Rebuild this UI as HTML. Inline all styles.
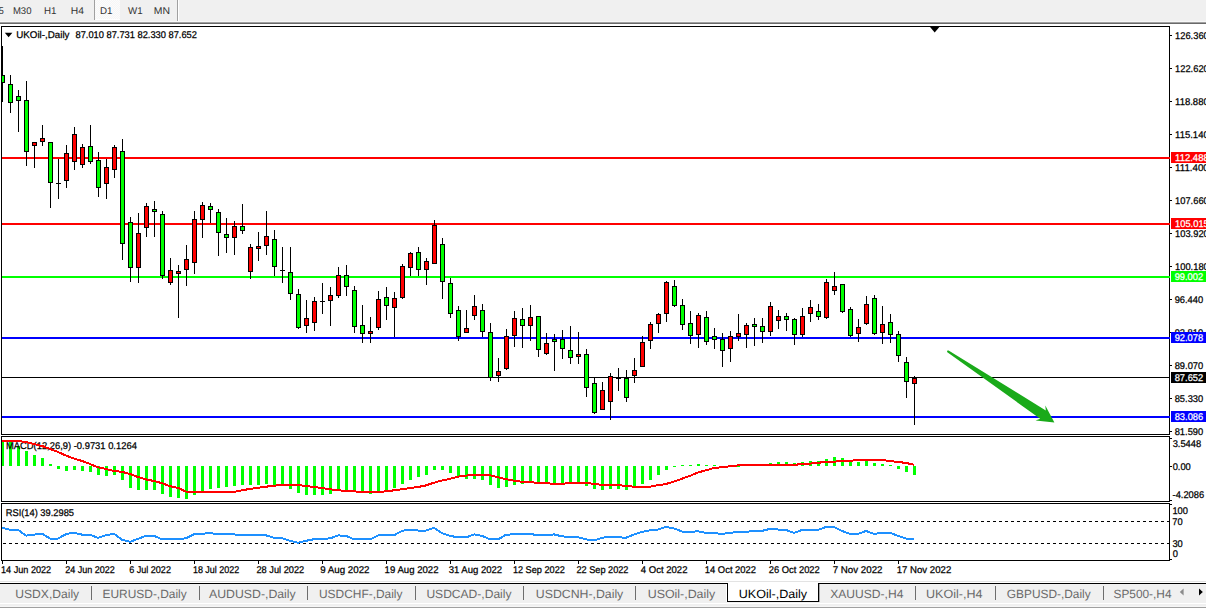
<!DOCTYPE html>
<html><head><meta charset="utf-8"><title>UKOil-,Daily</title>
<style>html,body{margin:0;padding:0;background:#fff;overflow:hidden}svg{display:block}text{white-space:pre}</style>
</head><body>
<svg text-rendering="geometricPrecision" width="1206" height="608" viewBox="0 0 1206 608" font-family="'Liberation Sans', sans-serif">
<rect x="0" y="0" width="1206" height="608" fill="#fff"/>
<rect x="0" y="0" width="1206" height="21" fill="#f0f0f0"/>
<rect x="0" y="21" width="1206" height="1" fill="#f7f7f7"/>
<rect x="0" y="22" width="1206" height="1" fill="#a0a0a0"/>
<rect x="0" y="23" width="1206" height="1" fill="#696969"/>
<defs><pattern id="chk" width="2" height="2" patternUnits="userSpaceOnUse"><rect width="2" height="2" fill="#f6f6f6"/><rect width="1" height="1" fill="#fcfcfc"/><rect x="1" y="1" width="1" height="1" fill="#fcfcfc"/></pattern></defs>
<rect x="95" y="0" width="25" height="20" fill="url(#chk)"/>
<rect x="94" y="0" width="1" height="20" fill="#a0a0a0"/>
<rect x="95" y="19" width="25" height="1" fill="#ffffff"/>
<rect x="177" y="0" width="1" height="21" fill="#a0a0a0"/>
<rect x="178" y="0" width="1" height="21" fill="#ffffff"/>
<text x="-1.36" y="14.0" font-size="9.75" fill="#333333" stroke="#333333" stroke-width="0" textLength="5.04" lengthAdjust="spacingAndGlyphs">5</text>
<text x="12.92" y="14.0" font-size="9.75" fill="#333333" stroke="#333333" stroke-width="0" textLength="18.56" lengthAdjust="spacingAndGlyphs">M30</text>
<text x="44.00" y="14.0" font-size="9.75" fill="#333333" stroke="#333333" stroke-width="0" textLength="12.48" lengthAdjust="spacingAndGlyphs">H1</text>
<text x="70.86" y="14.0" font-size="9.75" fill="#333333" stroke="#333333" stroke-width="0" textLength="13.14" lengthAdjust="spacingAndGlyphs">H4</text>
<text x="100.00" y="14.0" font-size="9.75" fill="#333333" stroke="#333333" stroke-width="0" textLength="12.48" lengthAdjust="spacingAndGlyphs">D1</text>
<text x="128.06" y="14.0" font-size="9.75" fill="#333333" stroke="#333333" stroke-width="0" textLength="14.62" lengthAdjust="spacingAndGlyphs">W1</text>
<text x="153.85" y="14.0" font-size="9.75" fill="#333333" stroke="#333333" stroke-width="0" textLength="16.20" lengthAdjust="spacingAndGlyphs">MN</text>
<rect x="2" y="157" width="1168" height="2" fill="#ff0000"/>
<rect x="2" y="223" width="1168" height="2" fill="#ff0000"/>
<rect x="2" y="276" width="1168" height="2" fill="#00ff00"/>
<rect x="2" y="337" width="1168" height="2" fill="#0000ff"/>
<rect x="2" y="377" width="1168" height="1" fill="#000000"/>
<rect x="2" y="416" width="1168" height="2" fill="#0000ff"/>
<rect x="2" y="46" width="1" height="56" fill="#000"/>
<rect x="0" y="75" width="5" height="8" fill="#000"/>
<rect x="1" y="76" width="3" height="6" fill="#00ff00"/>
<rect x="10" y="75" width="1" height="38" fill="#000"/>
<rect x="8" y="84" width="5" height="19" fill="#000"/>
<rect x="9" y="85" width="3" height="17" fill="#00ff00"/>
<rect x="18" y="90" width="1" height="42" fill="#000"/>
<rect x="16" y="96" width="5" height="5" fill="#000"/>
<rect x="17" y="97" width="3" height="3" fill="#00ff00"/>
<rect x="26" y="81" width="1" height="85" fill="#000"/>
<rect x="24" y="100" width="5" height="52" fill="#000"/>
<rect x="25" y="101" width="3" height="50" fill="#00ff00"/>
<rect x="34" y="142" width="1" height="26" fill="#000"/>
<rect x="32" y="142" width="5" height="4" fill="#000"/>
<rect x="33" y="143" width="3" height="2" fill="#ff0000"/>
<rect x="42" y="125" width="1" height="21" fill="#000"/>
<rect x="40" y="138" width="5" height="4" fill="#000"/>
<rect x="41" y="139" width="3" height="2" fill="#ff0000"/>
<rect x="50" y="142" width="1" height="66" fill="#000"/>
<rect x="48" y="142" width="5" height="41" fill="#000"/>
<rect x="49" y="143" width="3" height="39" fill="#00ff00"/>
<rect x="58" y="159" width="1" height="40" fill="#000"/>
<rect x="56" y="183" width="5" height="1" fill="#000"/>
<rect x="66" y="145" width="1" height="43" fill="#000"/>
<rect x="64" y="153" width="5" height="28" fill="#000"/>
<rect x="65" y="154" width="3" height="26" fill="#ff0000"/>
<rect x="74" y="127" width="1" height="43" fill="#000"/>
<rect x="72" y="134" width="5" height="28" fill="#000"/>
<rect x="73" y="135" width="3" height="26" fill="#ff0000"/>
<rect x="82" y="144" width="1" height="24" fill="#000"/>
<rect x="80" y="147" width="5" height="18" fill="#000"/>
<rect x="81" y="148" width="3" height="16" fill="#ff0000"/>
<rect x="90" y="125" width="1" height="39" fill="#000"/>
<rect x="88" y="146" width="5" height="16" fill="#000"/>
<rect x="89" y="147" width="3" height="14" fill="#00ff00"/>
<rect x="98" y="152" width="1" height="45" fill="#000"/>
<rect x="96" y="160" width="5" height="28" fill="#000"/>
<rect x="97" y="161" width="3" height="26" fill="#00ff00"/>
<rect x="106" y="159" width="1" height="40" fill="#000"/>
<rect x="104" y="167" width="5" height="17" fill="#000"/>
<rect x="105" y="168" width="3" height="15" fill="#ff0000"/>
<rect x="114" y="145" width="1" height="33" fill="#000"/>
<rect x="112" y="147" width="5" height="23" fill="#000"/>
<rect x="113" y="148" width="3" height="21" fill="#ff0000"/>
<rect x="122" y="139" width="1" height="121" fill="#000"/>
<rect x="120" y="151" width="5" height="93" fill="#000"/>
<rect x="121" y="152" width="3" height="91" fill="#00ff00"/>
<rect x="130" y="217" width="1" height="65" fill="#000"/>
<rect x="128" y="222" width="5" height="46" fill="#000"/>
<rect x="129" y="223" width="3" height="44" fill="#00ff00"/>
<rect x="138" y="213" width="1" height="70" fill="#000"/>
<rect x="136" y="233" width="5" height="35" fill="#000"/>
<rect x="137" y="234" width="3" height="33" fill="#ff0000"/>
<rect x="146" y="203" width="1" height="34" fill="#000"/>
<rect x="144" y="206" width="5" height="22" fill="#000"/>
<rect x="145" y="207" width="3" height="20" fill="#ff0000"/>
<rect x="154" y="201" width="1" height="36" fill="#000"/>
<rect x="152" y="209" width="5" height="3" fill="#000"/>
<rect x="153" y="210" width="3" height="1" fill="#00ff00"/>
<rect x="162" y="211" width="1" height="68" fill="#000"/>
<rect x="160" y="214" width="5" height="62" fill="#000"/>
<rect x="161" y="215" width="3" height="60" fill="#00ff00"/>
<rect x="170" y="258" width="1" height="27" fill="#000"/>
<rect x="168" y="270" width="5" height="13" fill="#000"/>
<rect x="169" y="271" width="3" height="11" fill="#ff0000"/>
<rect x="178" y="265" width="1" height="53" fill="#000"/>
<rect x="176" y="271" width="5" height="3" fill="#000"/>
<rect x="177" y="272" width="3" height="1" fill="#ff0000"/>
<rect x="186" y="245" width="1" height="41" fill="#000"/>
<rect x="184" y="259" width="5" height="11" fill="#000"/>
<rect x="185" y="260" width="3" height="9" fill="#ff0000"/>
<rect x="194" y="211" width="1" height="63" fill="#000"/>
<rect x="192" y="219" width="5" height="44" fill="#000"/>
<rect x="193" y="220" width="3" height="42" fill="#ff0000"/>
<rect x="202" y="202" width="1" height="36" fill="#000"/>
<rect x="200" y="205" width="5" height="15" fill="#000"/>
<rect x="201" y="206" width="3" height="13" fill="#ff0000"/>
<rect x="210" y="203" width="1" height="20" fill="#000"/>
<rect x="208" y="206" width="5" height="4" fill="#000"/>
<rect x="209" y="207" width="3" height="2" fill="#00ff00"/>
<rect x="218" y="209" width="1" height="47" fill="#000"/>
<rect x="216" y="212" width="5" height="21" fill="#000"/>
<rect x="217" y="213" width="3" height="19" fill="#00ff00"/>
<rect x="226" y="218" width="1" height="35" fill="#000"/>
<rect x="224" y="234" width="5" height="4" fill="#000"/>
<rect x="225" y="235" width="3" height="2" fill="#00ff00"/>
<rect x="234" y="221" width="1" height="34" fill="#000"/>
<rect x="232" y="226" width="5" height="12" fill="#000"/>
<rect x="233" y="227" width="3" height="10" fill="#ff0000"/>
<rect x="242" y="204" width="1" height="30" fill="#000"/>
<rect x="240" y="226" width="5" height="5" fill="#000"/>
<rect x="241" y="227" width="3" height="3" fill="#00ff00"/>
<rect x="250" y="244" width="1" height="35" fill="#000"/>
<rect x="248" y="247" width="5" height="25" fill="#000"/>
<rect x="249" y="248" width="3" height="23" fill="#ff0000"/>
<rect x="258" y="232" width="1" height="29" fill="#000"/>
<rect x="256" y="246" width="5" height="3" fill="#000"/>
<rect x="257" y="247" width="3" height="1" fill="#ff0000"/>
<rect x="266" y="211" width="1" height="44" fill="#000"/>
<rect x="264" y="236" width="5" height="10" fill="#000"/>
<rect x="265" y="237" width="3" height="8" fill="#ff0000"/>
<rect x="274" y="230" width="1" height="46" fill="#000"/>
<rect x="272" y="239" width="5" height="28" fill="#000"/>
<rect x="273" y="240" width="3" height="26" fill="#00ff00"/>
<rect x="282" y="247" width="1" height="36" fill="#000"/>
<rect x="280" y="270" width="5" height="1" fill="#000"/>
<rect x="290" y="247" width="1" height="53" fill="#000"/>
<rect x="288" y="272" width="5" height="22" fill="#000"/>
<rect x="289" y="273" width="3" height="20" fill="#00ff00"/>
<rect x="298" y="289" width="1" height="40" fill="#000"/>
<rect x="296" y="294" width="5" height="34" fill="#000"/>
<rect x="297" y="295" width="3" height="32" fill="#00ff00"/>
<rect x="306" y="300" width="1" height="33" fill="#000"/>
<rect x="304" y="318" width="5" height="8" fill="#000"/>
<rect x="305" y="319" width="3" height="6" fill="#ff0000"/>
<rect x="314" y="297" width="1" height="34" fill="#000"/>
<rect x="312" y="301" width="5" height="22" fill="#000"/>
<rect x="313" y="302" width="3" height="20" fill="#ff0000"/>
<rect x="322" y="283" width="1" height="31" fill="#000"/>
<rect x="320" y="301" width="5" height="1" fill="#000"/>
<rect x="330" y="287" width="1" height="39" fill="#000"/>
<rect x="328" y="295" width="5" height="6" fill="#000"/>
<rect x="329" y="296" width="3" height="4" fill="#ff0000"/>
<rect x="338" y="267" width="1" height="31" fill="#000"/>
<rect x="336" y="275" width="5" height="21" fill="#000"/>
<rect x="337" y="276" width="3" height="19" fill="#ff0000"/>
<rect x="346" y="265" width="1" height="31" fill="#000"/>
<rect x="344" y="275" width="5" height="12" fill="#000"/>
<rect x="345" y="276" width="3" height="10" fill="#00ff00"/>
<rect x="354" y="286" width="1" height="47" fill="#000"/>
<rect x="352" y="290" width="5" height="37" fill="#000"/>
<rect x="353" y="291" width="3" height="35" fill="#00ff00"/>
<rect x="362" y="305" width="1" height="38" fill="#000"/>
<rect x="360" y="325" width="5" height="9" fill="#000"/>
<rect x="361" y="326" width="3" height="7" fill="#00ff00"/>
<rect x="370" y="317" width="1" height="26" fill="#000"/>
<rect x="368" y="331" width="5" height="3" fill="#000"/>
<rect x="369" y="332" width="3" height="1" fill="#ff0000"/>
<rect x="378" y="291" width="1" height="39" fill="#000"/>
<rect x="376" y="299" width="5" height="29" fill="#000"/>
<rect x="377" y="300" width="3" height="27" fill="#ff0000"/>
<rect x="386" y="287" width="1" height="33" fill="#000"/>
<rect x="384" y="297" width="5" height="9" fill="#000"/>
<rect x="385" y="298" width="3" height="7" fill="#00ff00"/>
<rect x="394" y="292" width="1" height="45" fill="#000"/>
<rect x="392" y="298" width="5" height="10" fill="#000"/>
<rect x="393" y="299" width="3" height="8" fill="#ff0000"/>
<rect x="402" y="264" width="1" height="35" fill="#000"/>
<rect x="400" y="266" width="5" height="32" fill="#000"/>
<rect x="401" y="267" width="3" height="30" fill="#ff0000"/>
<rect x="410" y="252" width="1" height="24" fill="#000"/>
<rect x="408" y="253" width="5" height="15" fill="#000"/>
<rect x="409" y="254" width="3" height="13" fill="#ff0000"/>
<rect x="418" y="247" width="1" height="29" fill="#000"/>
<rect x="416" y="252" width="5" height="18" fill="#000"/>
<rect x="417" y="253" width="3" height="16" fill="#00ff00"/>
<rect x="426" y="258" width="1" height="27" fill="#000"/>
<rect x="424" y="261" width="5" height="9" fill="#000"/>
<rect x="425" y="262" width="3" height="7" fill="#ff0000"/>
<rect x="434" y="220" width="1" height="44" fill="#000"/>
<rect x="432" y="225" width="5" height="39" fill="#000"/>
<rect x="433" y="226" width="3" height="37" fill="#ff0000"/>
<rect x="442" y="238" width="1" height="61" fill="#000"/>
<rect x="440" y="244" width="5" height="38" fill="#000"/>
<rect x="441" y="245" width="3" height="36" fill="#00ff00"/>
<rect x="450" y="278" width="1" height="40" fill="#000"/>
<rect x="448" y="283" width="5" height="31" fill="#000"/>
<rect x="449" y="284" width="3" height="29" fill="#00ff00"/>
<rect x="458" y="306" width="1" height="35" fill="#000"/>
<rect x="456" y="310" width="5" height="27" fill="#000"/>
<rect x="457" y="311" width="3" height="25" fill="#00ff00"/>
<rect x="466" y="310" width="1" height="23" fill="#000"/>
<rect x="464" y="328" width="5" height="5" fill="#000"/>
<rect x="465" y="329" width="3" height="3" fill="#ff0000"/>
<rect x="474" y="295" width="1" height="25" fill="#000"/>
<rect x="472" y="306" width="5" height="10" fill="#000"/>
<rect x="473" y="307" width="3" height="8" fill="#ff0000"/>
<rect x="482" y="304" width="1" height="33" fill="#000"/>
<rect x="480" y="310" width="5" height="22" fill="#000"/>
<rect x="481" y="311" width="3" height="20" fill="#00ff00"/>
<rect x="490" y="323" width="1" height="58" fill="#000"/>
<rect x="488" y="332" width="5" height="46" fill="#000"/>
<rect x="489" y="333" width="3" height="44" fill="#00ff00"/>
<rect x="498" y="358" width="1" height="24" fill="#000"/>
<rect x="496" y="371" width="5" height="5" fill="#000"/>
<rect x="497" y="372" width="3" height="3" fill="#ff0000"/>
<rect x="506" y="329" width="1" height="41" fill="#000"/>
<rect x="504" y="336" width="5" height="33" fill="#000"/>
<rect x="505" y="337" width="3" height="31" fill="#ff0000"/>
<rect x="514" y="311" width="1" height="36" fill="#000"/>
<rect x="512" y="318" width="5" height="18" fill="#000"/>
<rect x="513" y="319" width="3" height="16" fill="#ff0000"/>
<rect x="522" y="308" width="1" height="40" fill="#000"/>
<rect x="520" y="319" width="5" height="7" fill="#000"/>
<rect x="521" y="320" width="3" height="5" fill="#00ff00"/>
<rect x="530" y="305" width="1" height="36" fill="#000"/>
<rect x="528" y="317" width="5" height="9" fill="#000"/>
<rect x="529" y="318" width="3" height="7" fill="#ff0000"/>
<rect x="538" y="316" width="1" height="41" fill="#000"/>
<rect x="536" y="316" width="5" height="34" fill="#000"/>
<rect x="537" y="317" width="3" height="32" fill="#00ff00"/>
<rect x="546" y="333" width="1" height="22" fill="#000"/>
<rect x="544" y="343" width="5" height="11" fill="#000"/>
<rect x="545" y="344" width="3" height="9" fill="#ff0000"/>
<rect x="554" y="334" width="1" height="37" fill="#000"/>
<rect x="552" y="339" width="5" height="3" fill="#000"/>
<rect x="553" y="340" width="3" height="1" fill="#00ff00"/>
<rect x="562" y="330" width="1" height="29" fill="#000"/>
<rect x="560" y="339" width="5" height="10" fill="#000"/>
<rect x="561" y="340" width="3" height="8" fill="#00ff00"/>
<rect x="570" y="326" width="1" height="38" fill="#000"/>
<rect x="568" y="350" width="5" height="8" fill="#000"/>
<rect x="569" y="351" width="3" height="6" fill="#00ff00"/>
<rect x="578" y="332" width="1" height="32" fill="#000"/>
<rect x="576" y="354" width="5" height="3" fill="#000"/>
<rect x="577" y="355" width="3" height="1" fill="#ff0000"/>
<rect x="586" y="349" width="1" height="48" fill="#000"/>
<rect x="584" y="354" width="5" height="34" fill="#000"/>
<rect x="585" y="355" width="3" height="32" fill="#00ff00"/>
<rect x="594" y="378" width="1" height="36" fill="#000"/>
<rect x="592" y="383" width="5" height="30" fill="#000"/>
<rect x="593" y="384" width="3" height="28" fill="#00ff00"/>
<rect x="602" y="382" width="1" height="28" fill="#000"/>
<rect x="600" y="390" width="5" height="20" fill="#000"/>
<rect x="601" y="391" width="3" height="18" fill="#ff0000"/>
<rect x="610" y="373" width="1" height="47" fill="#000"/>
<rect x="608" y="376" width="5" height="26" fill="#000"/>
<rect x="609" y="377" width="3" height="24" fill="#ff0000"/>
<rect x="618" y="368" width="1" height="23" fill="#000"/>
<rect x="616" y="378" width="5" height="1" fill="#000"/>
<rect x="626" y="370" width="1" height="32" fill="#000"/>
<rect x="624" y="378" width="5" height="20" fill="#000"/>
<rect x="625" y="379" width="3" height="18" fill="#00ff00"/>
<rect x="634" y="358" width="1" height="25" fill="#000"/>
<rect x="632" y="370" width="5" height="6" fill="#000"/>
<rect x="633" y="371" width="3" height="4" fill="#ff0000"/>
<rect x="642" y="336" width="1" height="31" fill="#000"/>
<rect x="640" y="342" width="5" height="25" fill="#000"/>
<rect x="641" y="343" width="3" height="23" fill="#ff0000"/>
<rect x="650" y="322" width="1" height="27" fill="#000"/>
<rect x="648" y="324" width="5" height="17" fill="#000"/>
<rect x="649" y="325" width="3" height="15" fill="#ff0000"/>
<rect x="658" y="313" width="1" height="20" fill="#000"/>
<rect x="656" y="314" width="5" height="10" fill="#000"/>
<rect x="657" y="315" width="3" height="8" fill="#ff0000"/>
<rect x="666" y="281" width="1" height="41" fill="#000"/>
<rect x="664" y="282" width="5" height="32" fill="#000"/>
<rect x="665" y="283" width="3" height="30" fill="#ff0000"/>
<rect x="674" y="280" width="1" height="27" fill="#000"/>
<rect x="672" y="286" width="5" height="20" fill="#000"/>
<rect x="673" y="287" width="3" height="18" fill="#00ff00"/>
<rect x="682" y="299" width="1" height="31" fill="#000"/>
<rect x="680" y="305" width="5" height="20" fill="#000"/>
<rect x="681" y="306" width="3" height="18" fill="#00ff00"/>
<rect x="690" y="311" width="1" height="33" fill="#000"/>
<rect x="688" y="323" width="5" height="13" fill="#000"/>
<rect x="689" y="324" width="3" height="11" fill="#00ff00"/>
<rect x="698" y="313" width="1" height="35" fill="#000"/>
<rect x="696" y="315" width="5" height="20" fill="#000"/>
<rect x="697" y="316" width="3" height="18" fill="#ff0000"/>
<rect x="706" y="311" width="1" height="34" fill="#000"/>
<rect x="704" y="317" width="5" height="25" fill="#000"/>
<rect x="705" y="318" width="3" height="23" fill="#00ff00"/>
<rect x="714" y="328" width="1" height="21" fill="#000"/>
<rect x="712" y="336" width="5" height="4" fill="#000"/>
<rect x="713" y="337" width="3" height="2" fill="#00ff00"/>
<rect x="722" y="333" width="1" height="34" fill="#000"/>
<rect x="720" y="339" width="5" height="12" fill="#000"/>
<rect x="721" y="340" width="3" height="10" fill="#00ff00"/>
<rect x="730" y="331" width="1" height="31" fill="#000"/>
<rect x="728" y="336" width="5" height="13" fill="#000"/>
<rect x="729" y="337" width="3" height="11" fill="#ff0000"/>
<rect x="738" y="314" width="1" height="27" fill="#000"/>
<rect x="736" y="333" width="5" height="4" fill="#000"/>
<rect x="737" y="334" width="3" height="2" fill="#ff0000"/>
<rect x="746" y="323" width="1" height="25" fill="#000"/>
<rect x="744" y="325" width="5" height="10" fill="#000"/>
<rect x="745" y="326" width="3" height="8" fill="#ff0000"/>
<rect x="754" y="318" width="1" height="28" fill="#000"/>
<rect x="752" y="324" width="5" height="3" fill="#000"/>
<rect x="753" y="325" width="3" height="1" fill="#00ff00"/>
<rect x="762" y="318" width="1" height="25" fill="#000"/>
<rect x="760" y="326" width="5" height="6" fill="#000"/>
<rect x="761" y="327" width="3" height="4" fill="#00ff00"/>
<rect x="770" y="302" width="1" height="34" fill="#000"/>
<rect x="768" y="306" width="5" height="26" fill="#000"/>
<rect x="769" y="307" width="3" height="24" fill="#ff0000"/>
<rect x="778" y="310" width="1" height="19" fill="#000"/>
<rect x="776" y="316" width="5" height="5" fill="#000"/>
<rect x="777" y="317" width="3" height="3" fill="#ff0000"/>
<rect x="786" y="313" width="1" height="18" fill="#000"/>
<rect x="784" y="316" width="5" height="4" fill="#000"/>
<rect x="785" y="317" width="3" height="2" fill="#00ff00"/>
<rect x="794" y="318" width="1" height="27" fill="#000"/>
<rect x="792" y="319" width="5" height="16" fill="#000"/>
<rect x="793" y="320" width="3" height="14" fill="#00ff00"/>
<rect x="802" y="308" width="1" height="29" fill="#000"/>
<rect x="800" y="316" width="5" height="19" fill="#000"/>
<rect x="801" y="317" width="3" height="17" fill="#ff0000"/>
<rect x="810" y="300" width="1" height="22" fill="#000"/>
<rect x="808" y="307" width="5" height="7" fill="#000"/>
<rect x="809" y="308" width="3" height="5" fill="#ff0000"/>
<rect x="818" y="304" width="1" height="16" fill="#000"/>
<rect x="816" y="311" width="5" height="6" fill="#000"/>
<rect x="817" y="312" width="3" height="4" fill="#00ff00"/>
<rect x="826" y="279" width="1" height="40" fill="#000"/>
<rect x="824" y="282" width="5" height="36" fill="#000"/>
<rect x="825" y="283" width="3" height="34" fill="#ff0000"/>
<rect x="834" y="272" width="1" height="23" fill="#000"/>
<rect x="832" y="286" width="5" height="5" fill="#000"/>
<rect x="833" y="287" width="3" height="3" fill="#ff0000"/>
<rect x="842" y="284" width="1" height="29" fill="#000"/>
<rect x="840" y="284" width="5" height="28" fill="#000"/>
<rect x="841" y="285" width="3" height="26" fill="#00ff00"/>
<rect x="850" y="307" width="1" height="30" fill="#000"/>
<rect x="848" y="309" width="5" height="27" fill="#000"/>
<rect x="849" y="310" width="3" height="25" fill="#00ff00"/>
<rect x="858" y="319" width="1" height="23" fill="#000"/>
<rect x="856" y="327" width="5" height="7" fill="#000"/>
<rect x="857" y="328" width="3" height="5" fill="#ff0000"/>
<rect x="866" y="296" width="1" height="29" fill="#000"/>
<rect x="864" y="304" width="5" height="20" fill="#000"/>
<rect x="865" y="305" width="3" height="18" fill="#ff0000"/>
<rect x="874" y="295" width="1" height="40" fill="#000"/>
<rect x="872" y="298" width="5" height="36" fill="#000"/>
<rect x="873" y="299" width="3" height="34" fill="#00ff00"/>
<rect x="882" y="306" width="1" height="38" fill="#000"/>
<rect x="880" y="324" width="5" height="9" fill="#000"/>
<rect x="881" y="325" width="3" height="7" fill="#ff0000"/>
<rect x="890" y="314" width="1" height="29" fill="#000"/>
<rect x="888" y="322" width="5" height="13" fill="#000"/>
<rect x="889" y="323" width="3" height="11" fill="#00ff00"/>
<rect x="898" y="331" width="1" height="31" fill="#000"/>
<rect x="896" y="334" width="5" height="22" fill="#000"/>
<rect x="897" y="335" width="3" height="20" fill="#00ff00"/>
<rect x="906" y="357" width="1" height="41" fill="#000"/>
<rect x="904" y="362" width="5" height="20" fill="#000"/>
<rect x="905" y="363" width="3" height="18" fill="#00ff00"/>
<rect x="914" y="376" width="1" height="49" fill="#000"/>
<rect x="912" y="378" width="5" height="6" fill="#000"/>
<rect x="913" y="379" width="3" height="4" fill="#ff0000"/>
<polygon points="4.8,32.8 12.4,32.8 8.6,37.2" fill="#000"/>
<text x="16.25" y="38.0" font-size="9.75" fill="#000" stroke="#000" stroke-width="0.25" textLength="53.27" lengthAdjust="spacingAndGlyphs">UKOil-,Daily</text>
<text x="75.50" y="38.0" font-size="9.75" fill="#000" stroke="#000" stroke-width="0.25" textLength="121.47" lengthAdjust="spacingAndGlyphs">87.010 87.731 82.330 87.652</text>
<polygon points="929.2,26 940.2,26 934.7,32.4" fill="#000"/>
<polygon points="947.4,350.6 948.6,350.4 1045.8,410.4 1045.3,405.6 1054.4,422.6 1035.6,420.4 1040.2,418.7 947,352" fill="#1aaa1a" shape-rendering="geometricPrecision"/>
<rect x="1" y="440" width="3" height="26" fill="#00ff00"/>
<rect x="9" y="442" width="3" height="24" fill="#00ff00"/>
<rect x="17" y="446" width="3" height="20" fill="#00ff00"/>
<rect x="25" y="451" width="3" height="15" fill="#00ff00"/>
<rect x="33" y="455" width="3" height="11" fill="#00ff00"/>
<rect x="41" y="458" width="3" height="8" fill="#00ff00"/>
<rect x="49" y="464" width="3" height="2" fill="#00ff00"/>
<rect x="57" y="466" width="3" height="3" fill="#00ff00"/>
<rect x="65" y="466" width="3" height="5" fill="#00ff00"/>
<rect x="73" y="466" width="3" height="4" fill="#00ff00"/>
<rect x="81" y="466" width="3" height="5" fill="#00ff00"/>
<rect x="89" y="466" width="3" height="6" fill="#00ff00"/>
<rect x="97" y="466" width="3" height="9" fill="#00ff00"/>
<rect x="105" y="466" width="3" height="10" fill="#00ff00"/>
<rect x="113" y="466" width="3" height="9" fill="#00ff00"/>
<rect x="121" y="466" width="3" height="14" fill="#00ff00"/>
<rect x="129" y="466" width="3" height="22" fill="#00ff00"/>
<rect x="137" y="466" width="3" height="24" fill="#00ff00"/>
<rect x="145" y="466" width="3" height="24" fill="#00ff00"/>
<rect x="153" y="466" width="3" height="24" fill="#00ff00"/>
<rect x="161" y="466" width="3" height="28" fill="#00ff00"/>
<rect x="169" y="466" width="3" height="31" fill="#00ff00"/>
<rect x="177" y="466" width="3" height="32" fill="#00ff00"/>
<rect x="185" y="466" width="3" height="33" fill="#00ff00"/>
<rect x="193" y="466" width="3" height="29" fill="#00ff00"/>
<rect x="201" y="466" width="3" height="26" fill="#00ff00"/>
<rect x="209" y="466" width="3" height="23" fill="#00ff00"/>
<rect x="217" y="466" width="3" height="22" fill="#00ff00"/>
<rect x="225" y="466" width="3" height="21" fill="#00ff00"/>
<rect x="233" y="466" width="3" height="20" fill="#00ff00"/>
<rect x="241" y="466" width="3" height="19" fill="#00ff00"/>
<rect x="249" y="466" width="3" height="19" fill="#00ff00"/>
<rect x="257" y="466" width="3" height="19" fill="#00ff00"/>
<rect x="265" y="466" width="3" height="18" fill="#00ff00"/>
<rect x="273" y="466" width="3" height="19" fill="#00ff00"/>
<rect x="281" y="466" width="3" height="18" fill="#00ff00"/>
<rect x="289" y="466" width="3" height="23" fill="#00ff00"/>
<rect x="297" y="466" width="3" height="27" fill="#00ff00"/>
<rect x="305" y="466" width="3" height="29" fill="#00ff00"/>
<rect x="313" y="466" width="3" height="29" fill="#00ff00"/>
<rect x="321" y="466" width="3" height="29" fill="#00ff00"/>
<rect x="329" y="466" width="3" height="28" fill="#00ff00"/>
<rect x="337" y="466" width="3" height="24" fill="#00ff00"/>
<rect x="345" y="466" width="3" height="24" fill="#00ff00"/>
<rect x="353" y="466" width="3" height="25" fill="#00ff00"/>
<rect x="361" y="466" width="3" height="26" fill="#00ff00"/>
<rect x="369" y="466" width="3" height="28" fill="#00ff00"/>
<rect x="377" y="466" width="3" height="26" fill="#00ff00"/>
<rect x="385" y="466" width="3" height="24" fill="#00ff00"/>
<rect x="393" y="466" width="3" height="22" fill="#00ff00"/>
<rect x="401" y="466" width="3" height="18" fill="#00ff00"/>
<rect x="409" y="466" width="3" height="14" fill="#00ff00"/>
<rect x="417" y="466" width="3" height="11" fill="#00ff00"/>
<rect x="425" y="466" width="3" height="9" fill="#00ff00"/>
<rect x="433" y="466" width="3" height="4" fill="#00ff00"/>
<rect x="441" y="466" width="3" height="4" fill="#00ff00"/>
<rect x="449" y="466" width="3" height="7" fill="#00ff00"/>
<rect x="457" y="466" width="3" height="10" fill="#00ff00"/>
<rect x="465" y="466" width="3" height="13" fill="#00ff00"/>
<rect x="473" y="466" width="3" height="13" fill="#00ff00"/>
<rect x="481" y="466" width="3" height="14" fill="#00ff00"/>
<rect x="489" y="466" width="3" height="19" fill="#00ff00"/>
<rect x="497" y="466" width="3" height="22" fill="#00ff00"/>
<rect x="505" y="466" width="3" height="21" fill="#00ff00"/>
<rect x="513" y="466" width="3" height="19" fill="#00ff00"/>
<rect x="521" y="466" width="3" height="18" fill="#00ff00"/>
<rect x="529" y="466" width="3" height="16" fill="#00ff00"/>
<rect x="537" y="466" width="3" height="16" fill="#00ff00"/>
<rect x="545" y="466" width="3" height="17" fill="#00ff00"/>
<rect x="553" y="466" width="3" height="17" fill="#00ff00"/>
<rect x="561" y="466" width="3" height="17" fill="#00ff00"/>
<rect x="569" y="466" width="3" height="16" fill="#00ff00"/>
<rect x="577" y="466" width="3" height="16" fill="#00ff00"/>
<rect x="585" y="466" width="3" height="20" fill="#00ff00"/>
<rect x="593" y="466" width="3" height="23" fill="#00ff00"/>
<rect x="601" y="466" width="3" height="24" fill="#00ff00"/>
<rect x="609" y="466" width="3" height="23" fill="#00ff00"/>
<rect x="617" y="466" width="3" height="23" fill="#00ff00"/>
<rect x="625" y="466" width="3" height="24" fill="#00ff00"/>
<rect x="633" y="466" width="3" height="20" fill="#00ff00"/>
<rect x="641" y="466" width="3" height="18" fill="#00ff00"/>
<rect x="649" y="466" width="3" height="14" fill="#00ff00"/>
<rect x="657" y="466" width="3" height="9" fill="#00ff00"/>
<rect x="665" y="466" width="3" height="4" fill="#00ff00"/>
<rect x="673" y="466" width="3" height="1" fill="#00ff00"/>
<rect x="681" y="465" width="3" height="1" fill="#00ff00"/>
<rect x="689" y="465" width="3" height="1" fill="#00ff00"/>
<rect x="697" y="464" width="3" height="2" fill="#00ff00"/>
<rect x="705" y="465" width="3" height="1" fill="#00ff00"/>
<rect x="713" y="465" width="3" height="1" fill="#00ff00"/>
<rect x="721" y="466" width="3" height="1" fill="#00ff00"/>
<rect x="729" y="466" width="3" height="1" fill="#00ff00"/>
<rect x="737" y="466" width="3" height="1" fill="#00ff00"/>
<rect x="745" y="465" width="3" height="1" fill="#00ff00"/>
<rect x="753" y="465" width="3" height="1" fill="#00ff00"/>
<rect x="761" y="465" width="3" height="1" fill="#00ff00"/>
<rect x="769" y="463" width="3" height="3" fill="#00ff00"/>
<rect x="777" y="462" width="3" height="4" fill="#00ff00"/>
<rect x="785" y="462" width="3" height="4" fill="#00ff00"/>
<rect x="793" y="463" width="3" height="3" fill="#00ff00"/>
<rect x="801" y="462" width="3" height="4" fill="#00ff00"/>
<rect x="809" y="461" width="3" height="5" fill="#00ff00"/>
<rect x="817" y="461" width="3" height="5" fill="#00ff00"/>
<rect x="825" y="459" width="3" height="7" fill="#00ff00"/>
<rect x="833" y="457" width="3" height="9" fill="#00ff00"/>
<rect x="841" y="458" width="3" height="8" fill="#00ff00"/>
<rect x="849" y="460" width="3" height="6" fill="#00ff00"/>
<rect x="857" y="462" width="3" height="4" fill="#00ff00"/>
<rect x="865" y="461" width="3" height="5" fill="#00ff00"/>
<rect x="873" y="463" width="3" height="3" fill="#00ff00"/>
<rect x="881" y="464" width="3" height="2" fill="#00ff00"/>
<rect x="889" y="465" width="3" height="1" fill="#00ff00"/>
<rect x="897" y="466" width="3" height="3" fill="#00ff00"/>
<rect x="905" y="466" width="3" height="6" fill="#00ff00"/>
<rect x="913" y="466" width="3" height="9" fill="#00ff00"/>
<text x="5.93" y="449.0" font-size="9.75" fill="#000" stroke="#000" stroke-width="0.25" textLength="130.94" lengthAdjust="spacingAndGlyphs">MACD(12,26,9) -0.9731 0.1264</text>
<polyline points="2,441 10,441 18,441 26,442 34,444 42,446 50,449 58,452 66,455.5 74,458.5 82,461 90,464 98,467.3 106,469 114,471 122,471.8 130,474 138,477 146,479.4 154,481 162,483.2 170,486.2 178,487.9 186,491.6 194,492.2 202,492.2 210,492.2 218,491.6 226,491.8 234,492 242,490.3 250,488.9 258,487.8 266,486.7 274,485.7 282,484.9 290,484.9 298,485 306,486 314,487 322,488.1 330,489.2 338,490.3 346,490.8 354,491.4 362,491.9 370,491.9 378,491.9 386,491.4 394,490.3 402,489.2 410,488.1 418,487 426,485.4 434,482.7 442,480.5 450,478.8 458,476.7 466,475.6 474,474.8 482,474.8 490,475.3 498,477.3 506,479.2 514,480.7 522,481.8 530,482.1 538,482.9 546,483.2 554,483.8 562,483.8 570,482.9 578,482.9 586,482.9 594,483.8 602,484.9 610,484.9 618,485.1 626,486 634,486.7 642,486.7 650,486.7 658,485.2 666,484 674,481.6 682,478.7 690,475.8 698,472.5 706,470.3 714,468 722,467.2 730,466.3 738,465.4 746,465.2 754,465.2 762,465.2 770,465.2 778,465.2 786,465 794,465 802,463.9 810,463.7 818,462.6 826,462.3 834,461.7 842,460.8 850,460.8 858,459.9 866,459.9 874,459.9 882,460 890,461 898,462 906,462.9 914,464.8" fill="none" stroke="#ff0000" stroke-width="2" stroke-linejoin="miter" shape-rendering="crispEdges"/>
<line x1="3" y1="521.5" x2="1169" y2="521.5" stroke="#000" stroke-width="1" stroke-dasharray="3 3"/>
<line x1="3" y1="543.5" x2="1169" y2="543.5" stroke="#000" stroke-width="1" stroke-dasharray="3 3"/>
<polyline points="2,527.7 10,529.7 18,529.7 26,535.6 34,534.6 42,533.6 50,538.6 58,538.6 66,534.1 74,532.7 82,534.6 90,534.8 98,537.8 106,535.3 114,533.8 122,539.8 130,541.8 138,538.8 146,535.8 154,535.8 162,539.4 170,539.4 178,538.8 186,538.4 194,534.2 202,533.8 210,532.9 218,534.4 226,534.4 234,534.4 242,535.4 250,535.4 258,535.4 266,535.4 274,537.8 282,538.2 290,540.8 298,542.8 306,540.8 314,539.2 322,538.8 330,538.4 338,535.4 346,535.8 354,539.4 362,539.4 370,539.4 378,535.4 386,535.4 394,535.2 402,530.9 410,529.5 418,530.5 426,530.5 434,527.9 442,533.2 450,535.8 458,537.4 466,537.4 474,534.4 482,535.8 490,539.4 498,539.4 506,534.8 514,534.2 522,533.8 530,533.8 538,535.4 546,535.4 554,534.4 562,536.4 570,536.8 578,537.2 586,539.4 594,540.4 602,537.8 610,536.8 618,537.2 626,537.8 634,534.4 642,531.9 650,530.3 658,529.5 666,526.9 674,528.5 682,531.5 690,531.9 698,531.3 706,532.9 714,533.2 722,533.8 730,532.9 738,531.9 746,531.9 754,530.9 762,530.9 770,528.9 778,529.5 786,529.9 794,532.9 802,530 810,529.9 818,529.9 826,526.9 834,526.9 842,530.9 850,533.9 858,533.9 866,530.9 874,533.9 882,532.8 890,532.8 898,535.9 906,538.5 914,538.5" fill="none" stroke="#1e90ff" stroke-width="2" shape-rendering="crispEdges"/>
<text x="5.74" y="516.0" font-size="9.75" fill="#000" stroke="#000" stroke-width="0.25" textLength="68.25" lengthAdjust="spacingAndGlyphs">RSI(14) 39.2985</text>
<rect x="0" y="26" width="1" height="535" fill="#fff"/>
<rect x="1" y="26" width="1169" height="1" fill="#000"/>
<rect x="1" y="434" width="1169" height="1" fill="#000"/>
<rect x="1" y="26" width="1" height="409" fill="#000"/>
<rect x="1169" y="26" width="1" height="409" fill="#000"/>
<rect x="1" y="436" width="1169" height="1" fill="#000"/>
<rect x="1" y="501" width="1169" height="1" fill="#000"/>
<rect x="1" y="436" width="1" height="66" fill="#000"/>
<rect x="1169" y="436" width="1" height="66" fill="#000"/>
<rect x="1" y="503" width="1169" height="1" fill="#000"/>
<rect x="1" y="560" width="1169" height="1" fill="#000"/>
<rect x="1" y="503" width="1" height="58" fill="#000"/>
<rect x="1169" y="503" width="1" height="58" fill="#000"/>
<rect x="1168" y="157" width="2" height="2" fill="#ff0000"/>
<rect x="1168" y="223" width="2" height="2" fill="#ff0000"/>
<rect x="1168" y="276" width="2" height="2" fill="#00ff00"/>
<rect x="1168" y="337" width="2" height="2" fill="#0000ff"/>
<rect x="1168" y="416" width="2" height="2" fill="#0000ff"/>
<rect x="1170" y="35" width="2" height="1" fill="#000"/>
<text x="1175.09" y="39.0" font-size="9.75" fill="#000" stroke="#000" stroke-width="0.25" textLength="33.66" lengthAdjust="spacingAndGlyphs">126.360</text>
<rect x="1170" y="68" width="2" height="1" fill="#000"/>
<text x="1175.09" y="72.0" font-size="9.75" fill="#000" stroke="#000" stroke-width="0.25" textLength="33.66" lengthAdjust="spacingAndGlyphs">122.620</text>
<rect x="1170" y="101" width="2" height="1" fill="#000"/>
<text x="1175.09" y="105.0" font-size="9.75" fill="#000" stroke="#000" stroke-width="0.25" textLength="33.66" lengthAdjust="spacingAndGlyphs">118.880</text>
<rect x="1170" y="134" width="2" height="1" fill="#000"/>
<text x="1175.09" y="138.0" font-size="9.75" fill="#000" stroke="#000" stroke-width="0.25" textLength="33.66" lengthAdjust="spacingAndGlyphs">115.140</text>
<rect x="1170" y="167" width="2" height="1" fill="#000"/>
<text x="1175.09" y="171.0" font-size="9.75" fill="#000" stroke="#000" stroke-width="0.25" textLength="33.66" lengthAdjust="spacingAndGlyphs">111.400</text>
<rect x="1170" y="200" width="2" height="1" fill="#000"/>
<text x="1175.09" y="204.0" font-size="9.75" fill="#000" stroke="#000" stroke-width="0.25" textLength="33.66" lengthAdjust="spacingAndGlyphs">107.660</text>
<rect x="1170" y="233" width="2" height="1" fill="#000"/>
<text x="1175.09" y="237.0" font-size="9.75" fill="#000" stroke="#000" stroke-width="0.25" textLength="33.66" lengthAdjust="spacingAndGlyphs">103.920</text>
<rect x="1170" y="266" width="2" height="1" fill="#000"/>
<text x="1175.09" y="270.0" font-size="9.75" fill="#000" stroke="#000" stroke-width="0.25" textLength="33.66" lengthAdjust="spacingAndGlyphs">100.180</text>
<rect x="1170" y="299" width="2" height="1" fill="#000"/>
<text x="1174.66" y="303.0" font-size="9.75" fill="#000" stroke="#000" stroke-width="0.25" textLength="28.48" lengthAdjust="spacingAndGlyphs">96.440</text>
<rect x="1170" y="332" width="2" height="1" fill="#000"/>
<text x="1174.66" y="336.0" font-size="9.75" fill="#000" stroke="#000" stroke-width="0.25" textLength="28.48" lengthAdjust="spacingAndGlyphs">92.810</text>
<rect x="1170" y="365" width="2" height="1" fill="#000"/>
<text x="1174.70" y="369.0" font-size="9.75" fill="#000" stroke="#000" stroke-width="0.25" textLength="28.48" lengthAdjust="spacingAndGlyphs">89.070</text>
<rect x="1170" y="398" width="2" height="1" fill="#000"/>
<text x="1174.70" y="402.0" font-size="9.75" fill="#000" stroke="#000" stroke-width="0.25" textLength="28.48" lengthAdjust="spacingAndGlyphs">85.330</text>
<rect x="1170" y="431" width="2" height="1" fill="#000"/>
<text x="1174.70" y="435.0" font-size="9.75" fill="#000" stroke="#000" stroke-width="0.25" textLength="28.48" lengthAdjust="spacingAndGlyphs">81.590</text>
<rect x="1171" y="152" width="35" height="11" fill="#ff0000"/>
<text x="1175.09" y="161.0" font-size="9.75" fill="#fff" stroke="#fff" stroke-width="0.25" textLength="33.66" lengthAdjust="spacingAndGlyphs">112.488</text>
<rect x="1171" y="218" width="35" height="11" fill="#ff0000"/>
<text x="1175.09" y="227.0" font-size="9.75" fill="#fff" stroke="#fff" stroke-width="0.25" textLength="33.66" lengthAdjust="spacingAndGlyphs">105.015</text>
<rect x="1171" y="271" width="35" height="11" fill="#00ff00"/>
<text x="1174.66" y="280.0" font-size="9.75" fill="#fff" stroke="#fff" stroke-width="0.25" textLength="28.48" lengthAdjust="spacingAndGlyphs">99.002</text>
<rect x="1171" y="332" width="35" height="11" fill="#0000ff"/>
<text x="1174.66" y="341.0" font-size="9.75" fill="#fff" stroke="#fff" stroke-width="0.25" textLength="28.48" lengthAdjust="spacingAndGlyphs">92.078</text>
<rect x="1171" y="372" width="35" height="11" fill="#000000"/>
<text x="1174.70" y="381.0" font-size="9.75" fill="#fff" stroke="#fff" stroke-width="0.25" textLength="28.48" lengthAdjust="spacingAndGlyphs">87.652</text>
<rect x="1171" y="411" width="35" height="11" fill="#0000ff"/>
<text x="1174.70" y="420.0" font-size="9.75" fill="#fff" stroke="#fff" stroke-width="0.25" textLength="28.48" lengthAdjust="spacingAndGlyphs">83.086</text>
<rect x="1170" y="438" width="2" height="1" fill="#000"/>
<rect x="1170" y="466" width="2" height="1" fill="#000"/>
<rect x="1170" y="500" width="2" height="1" fill="#000"/>
<text x="1172.65" y="447.0" font-size="9.75" fill="#000" stroke="#000" stroke-width="0.25" textLength="28.48" lengthAdjust="spacingAndGlyphs">3.5448</text>
<text x="1172.64" y="470.0" font-size="9.75" fill="#000" stroke="#000" stroke-width="0.25" textLength="18.12" lengthAdjust="spacingAndGlyphs">0.00</text>
<text x="1172.59" y="498.0" font-size="9.75" fill="#000" stroke="#000" stroke-width="0.25" textLength="31.58" lengthAdjust="spacingAndGlyphs">-4.2086</text>
<rect x="1170" y="504" width="2" height="1" fill="#000"/>
<rect x="1167" y="521" width="2" height="1" fill="#000"/>
<rect x="1167" y="543" width="2" height="1" fill="#000"/>
<rect x="1170" y="559" width="2" height="1" fill="#000"/>
<text x="1172.39" y="514.0" font-size="9.75" fill="#000" stroke="#000" stroke-width="0.25" textLength="15.54" lengthAdjust="spacingAndGlyphs">100</text>
<text x="1172.32" y="525.0" font-size="9.75" fill="#000" stroke="#000" stroke-width="0.25" textLength="10.36" lengthAdjust="spacingAndGlyphs">70</text>
<text x="1172.45" y="547.0" font-size="9.75" fill="#000" stroke="#000" stroke-width="0.25" textLength="10.36" lengthAdjust="spacingAndGlyphs">30</text>
<text x="1172.74" y="557.0" font-size="9.75" fill="#000" stroke="#000" stroke-width="0.25" textLength="5.18" lengthAdjust="spacingAndGlyphs">0</text>
<rect x="2" y="561" width="1" height="3" fill="#000"/>
<text x="1.01" y="573.0" font-size="9.75" fill="#000" stroke="#000" stroke-width="0.25" textLength="50.15" lengthAdjust="spacingAndGlyphs">14 Jun 2022</text>
<rect x="66" y="561" width="1" height="3" fill="#000"/>
<text x="65.15" y="573.0" font-size="9.75" fill="#000" stroke="#000" stroke-width="0.25" textLength="49.71" lengthAdjust="spacingAndGlyphs">24 Jun 2022</text>
<rect x="130" y="561" width="1" height="3" fill="#000"/>
<text x="129.14" y="573.0" font-size="9.75" fill="#000" stroke="#000" stroke-width="0.25" textLength="41.82" lengthAdjust="spacingAndGlyphs">6 Jul 2022</text>
<rect x="194" y="561" width="1" height="3" fill="#000"/>
<text x="192.92" y="573.0" font-size="9.75" fill="#000" stroke="#000" stroke-width="0.25" textLength="46.33" lengthAdjust="spacingAndGlyphs">18 Jul 2022</text>
<rect x="258" y="561" width="1" height="3" fill="#000"/>
<text x="256.44" y="573.0" font-size="9.75" fill="#000" stroke="#000" stroke-width="0.25" textLength="47.73" lengthAdjust="spacingAndGlyphs">28 Jul 2022</text>
<rect x="322" y="561" width="1" height="3" fill="#000"/>
<text x="320.15" y="573.0" font-size="9.75" fill="#000" stroke="#000" stroke-width="0.25" textLength="49.34" lengthAdjust="spacingAndGlyphs">9 Aug 2022</text>
<rect x="386" y="561" width="1" height="3" fill="#000"/>
<text x="384.58" y="573.0" font-size="9.75" fill="#000" stroke="#000" stroke-width="0.25" textLength="53.90" lengthAdjust="spacingAndGlyphs">19 Aug 2022</text>
<rect x="450" y="561" width="1" height="3" fill="#000"/>
<text x="448.64" y="573.0" font-size="9.75" fill="#000" stroke="#000" stroke-width="0.25" textLength="53.53" lengthAdjust="spacingAndGlyphs">31 Aug 2022</text>
<rect x="514" y="561" width="1" height="3" fill="#000"/>
<text x="512.90" y="573.0" font-size="9.75" fill="#000" stroke="#000" stroke-width="0.25" textLength="51.96" lengthAdjust="spacingAndGlyphs">12 Sep 2022</text>
<rect x="578" y="561" width="1" height="3" fill="#000"/>
<text x="576.44" y="573.0" font-size="9.75" fill="#000" stroke="#000" stroke-width="0.25" textLength="52.02" lengthAdjust="spacingAndGlyphs">22 Sep 2022</text>
<rect x="642" y="561" width="1" height="3" fill="#000"/>
<text x="640.78" y="573.0" font-size="9.75" fill="#000" stroke="#000" stroke-width="0.25" textLength="46.70" lengthAdjust="spacingAndGlyphs">4 Oct 2022</text>
<rect x="706" y="561" width="1" height="3" fill="#000"/>
<text x="704.78" y="573.0" font-size="9.75" fill="#000" stroke="#000" stroke-width="0.25" textLength="51.29" lengthAdjust="spacingAndGlyphs">14 Oct 2022</text>
<rect x="770" y="561" width="1" height="3" fill="#000"/>
<text x="768.73" y="573.0" font-size="9.75" fill="#000" stroke="#000" stroke-width="0.25" textLength="51.04" lengthAdjust="spacingAndGlyphs">26 Oct 2022</text>
<rect x="834" y="561" width="1" height="3" fill="#000"/>
<text x="832.70" y="573.0" font-size="9.75" fill="#000" stroke="#000" stroke-width="0.25" textLength="49.79" lengthAdjust="spacingAndGlyphs">7 Nov 2022</text>
<rect x="898" y="561" width="1" height="3" fill="#000"/>
<text x="896.67" y="573.0" font-size="9.75" fill="#000" stroke="#000" stroke-width="0.25" textLength="54.62" lengthAdjust="spacingAndGlyphs">17 Nov 2022</text>
<rect x="0" y="581" width="1206" height="1" fill="#e3e3e3"/>
<rect x="0" y="582" width="1206" height="1" fill="#ffffff"/>
<rect x="0" y="583" width="1206" height="1" fill="#000"/>
<rect x="0" y="584" width="1206" height="23" fill="#f0f0f0"/>
<rect x="0" y="603" width="1206" height="1" fill="#ffffff"/>
<rect x="0" y="606" width="1206" height="1" fill="#f6f6f6"/>
<rect x="0" y="607" width="1206" height="1" fill="#a0a0a0"/>
<rect x="727" y="583" width="92" height="19" fill="#000"/>
<rect x="728" y="583" width="90" height="18" fill="#fff"/>
<rect x="819" y="584" width="1" height="18" fill="#a9a9a9"/>
<rect x="726" y="584" width="1" height="18" fill="#fff"/>
<text x="15.30" y="598" font-size="12" fill="#6a6a6a" textLength="63.86" lengthAdjust="spacingAndGlyphs">USDX,Daily</text>
<text x="102.50" y="598" font-size="12" fill="#6a6a6a" textLength="84.20" lengthAdjust="spacingAndGlyphs">EURUSD-,Daily</text>
<text x="209.00" y="598" font-size="12" fill="#6a6a6a" textLength="86.70" lengthAdjust="spacingAndGlyphs">AUDUSD-,Daily</text>
<text x="319.00" y="598" font-size="12" fill="#6a6a6a" textLength="83.43" lengthAdjust="spacingAndGlyphs">USDCHF-,Daily</text>
<text x="426.40" y="598" font-size="12" fill="#6a6a6a" textLength="85.10" lengthAdjust="spacingAndGlyphs">USDCAD-,Daily</text>
<text x="535.80" y="598" font-size="12" fill="#6a6a6a" textLength="87.48" lengthAdjust="spacingAndGlyphs">USDCNH-,Daily</text>
<text x="647.70" y="598" font-size="12" fill="#6a6a6a" textLength="67.56" lengthAdjust="spacingAndGlyphs">USOil-,Daily</text>
<text x="830.20" y="598" font-size="12" fill="#6a6a6a" textLength="73.19" lengthAdjust="spacingAndGlyphs">XAUUSD-,H4</text>
<text x="926.00" y="598" font-size="12" fill="#6a6a6a" textLength="56.52" lengthAdjust="spacingAndGlyphs">UKOil-,H4</text>
<text x="1006.80" y="598" font-size="12" fill="#6a6a6a" textLength="83.89" lengthAdjust="spacingAndGlyphs">GBPUSD-,Daily</text>
<text x="1113.50" y="598" font-size="12" fill="#6a6a6a" textLength="57.99" lengthAdjust="spacingAndGlyphs">SP500-,H4</text>
<text x="738.70" y="598" font-size="12" fill="#000" textLength="68.36" lengthAdjust="spacingAndGlyphs">UKOil-,Daily</text>
<rect x="91" y="586" width="1" height="14" fill="#6d6d6d"/>
<rect x="199" y="586" width="1" height="14" fill="#6d6d6d"/>
<rect x="307" y="586" width="1" height="14" fill="#6d6d6d"/>
<rect x="415" y="586" width="1" height="14" fill="#6d6d6d"/>
<rect x="523" y="586" width="1" height="14" fill="#6d6d6d"/>
<rect x="635" y="586" width="1" height="14" fill="#6d6d6d"/>
<rect x="915" y="586" width="1" height="14" fill="#6d6d6d"/>
<rect x="995" y="586" width="1" height="14" fill="#6d6d6d"/>
<rect x="1103" y="586" width="1" height="14" fill="#6d6d6d"/>
<polygon points="1183.6,588.6 1183.6,595.6 1179.8,592.1" fill="#8c8c8c"/>
<polygon points="1199,588.6 1199,595.6 1202.8,592.1" fill="#000"/>
</svg>
</body></html>
